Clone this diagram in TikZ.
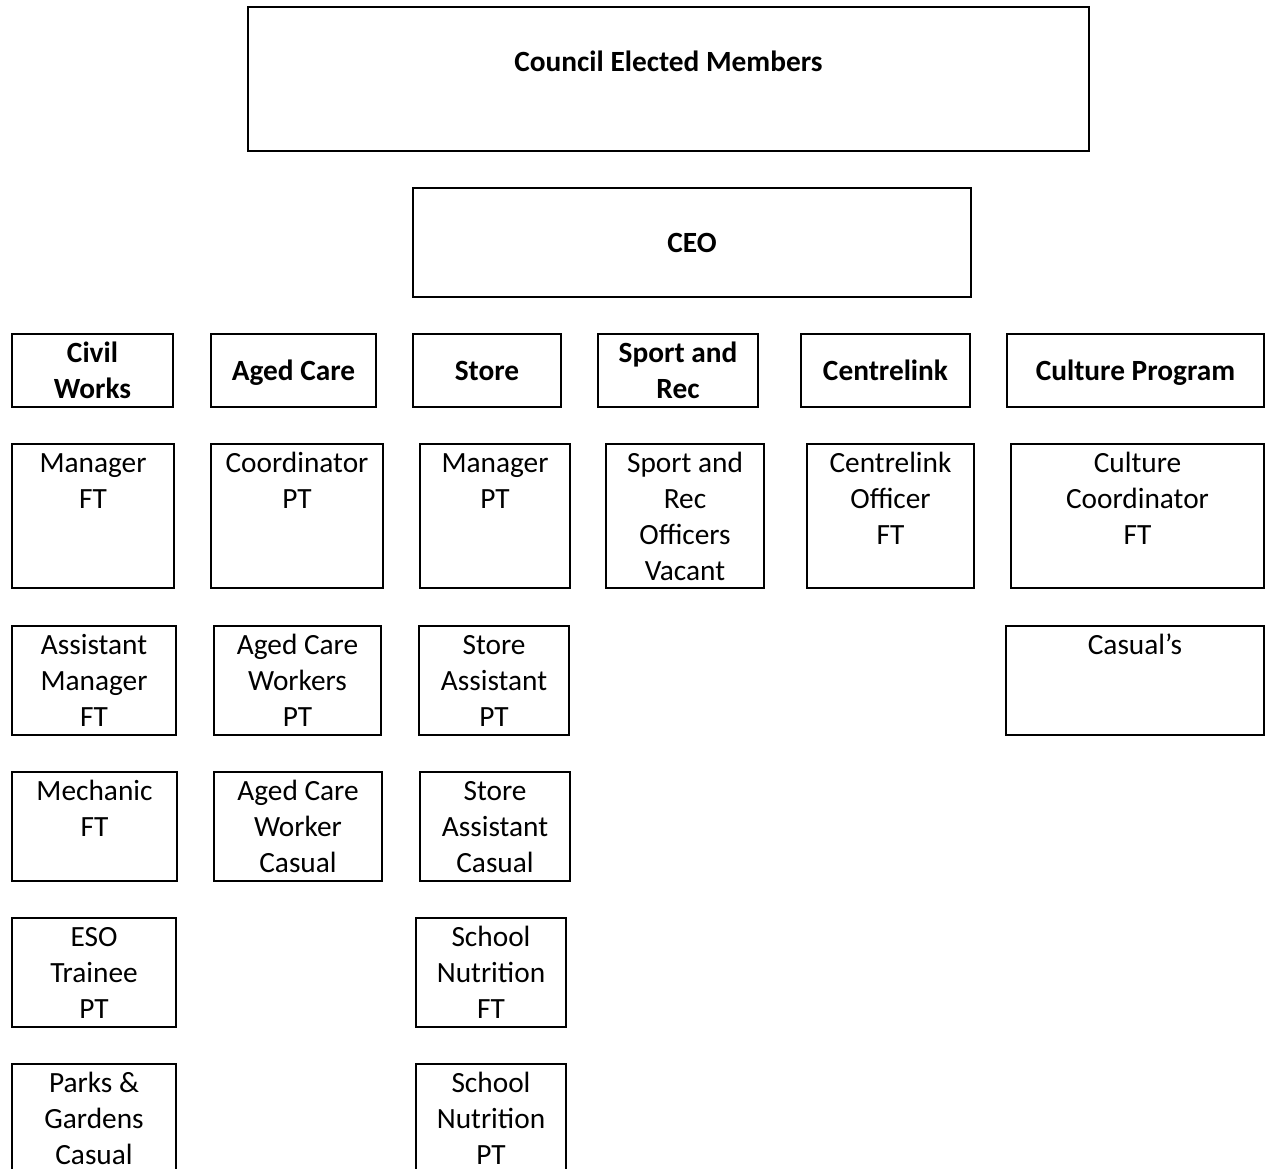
\documentclass[tikz,border=0pt]{standalone}
\usepackage{fontspec}
\setmainfont{Carlito}
\usetikzlibrary{fit}
\newcommand\rbox[6]{%
  \node[box, fit={(#2,#3) (#4,#5)}] (#1) {};
  \node[txt, anchor=north] (#1t) at ([yshift=-3.2pt]#1.north) {\strut #6\strut};}
\newcommand\hdbox[6]{%
  \node[box, fit={(#2,#3) (#4,#5)}] (#1) {};
  \node[hd] (#1t) at ([yshift=-2pt]#1.center) {\strut #6\strut};}
\begin{document}
\begin{tikzpicture}[x=0.75pt,y=-0.75pt,
  box/.style={draw, line width=1.6pt, inner sep=0pt},
  txt/.style={align=center, inner sep=0pt, font=\fontsize{22}{27}\selectfont},
  hd/.style={txt, font=\fontsize{22}{27}\selectfont\bfseries},
]
\useasboundingbox (0,0) rectangle (1265,1169);
\clip (0,0) rectangle (1265,1169);
% top
\node[box, fit={(248,7) (1089,151)}] (cem) {};
\node[hd] (cemt) at (668.5,64.5) {\strut Council Elected Members\strut};
\node[box, fit={(413,188) (971,297)}] (ceo) {};
\node[hd] (ceot) at (692,245) {\strut CEO\strut};
% headers
\hdbox{civ}{12}{334}{173}{407}{Civil\\Works}
\hdbox{age}{211}{334}{376}{407}{Aged Care}
\hdbox{sto}{413}{334}{561}{407}{Store}
\hdbox{spr}{598}{334}{758}{407}{Sport and\\Rec}
\hdbox{cen}{801}{334}{970}{407}{Centrelink}
\hdbox{cul}{1007}{334}{1264}{407}{Culture Program}
% row 1
\rbox{mgra}{12}{444}{174}{588}{Manager\\FT}
\rbox{coor}{211}{444}{383}{588}{Coordinator\\PT}
\rbox{mgrb}{420}{444}{570}{588}{Manager\\PT}
\rbox{spo}{606}{444}{764}{588}{Sport and\\Rec\\Officers\\Vacant}
\rbox{cof}{807}{444}{974}{588}{Centrelink\\Officer\\FT}
\rbox{ccf}{1011}{444}{1264}{588}{Culture\\Coordinator\\FT}
% row 2
\rbox{am}{12}{626}{176}{735}{Assistant\\Manager\\FT}
\rbox{acw}{214}{626}{381}{735}{Aged Care\\Workers\\PT}
\rbox{sa}{419}{626}{569}{735}{Store\\Assistant\\PT}
\rbox{cas}{1006}{626}{1264}{735}{Casual’s}
% row 3
\rbox{mech}{12}{772}{177}{881}{Mechanic\\FT}
\rbox{acwc}{214}{772}{382}{881}{Aged Care\\Worker\\Casual}
\rbox{sac}{420}{772}{570}{881}{Store\\Assistant\\Casual}
% row 4
\rbox{eso}{12}{918}{176}{1027}{ESO\\Trainee\\PT}
\rbox{sna}{416}{918}{566}{1027}{School\\Nutrition\\FT}
% row 5
\rbox{pg}{12}{1064}{176}{1200}{Parks \&\\Gardens\\Casual}
\rbox{snb}{416}{1064}{566}{1200}{School\\Nutrition\\PT}
\end{tikzpicture}
\end{document}
